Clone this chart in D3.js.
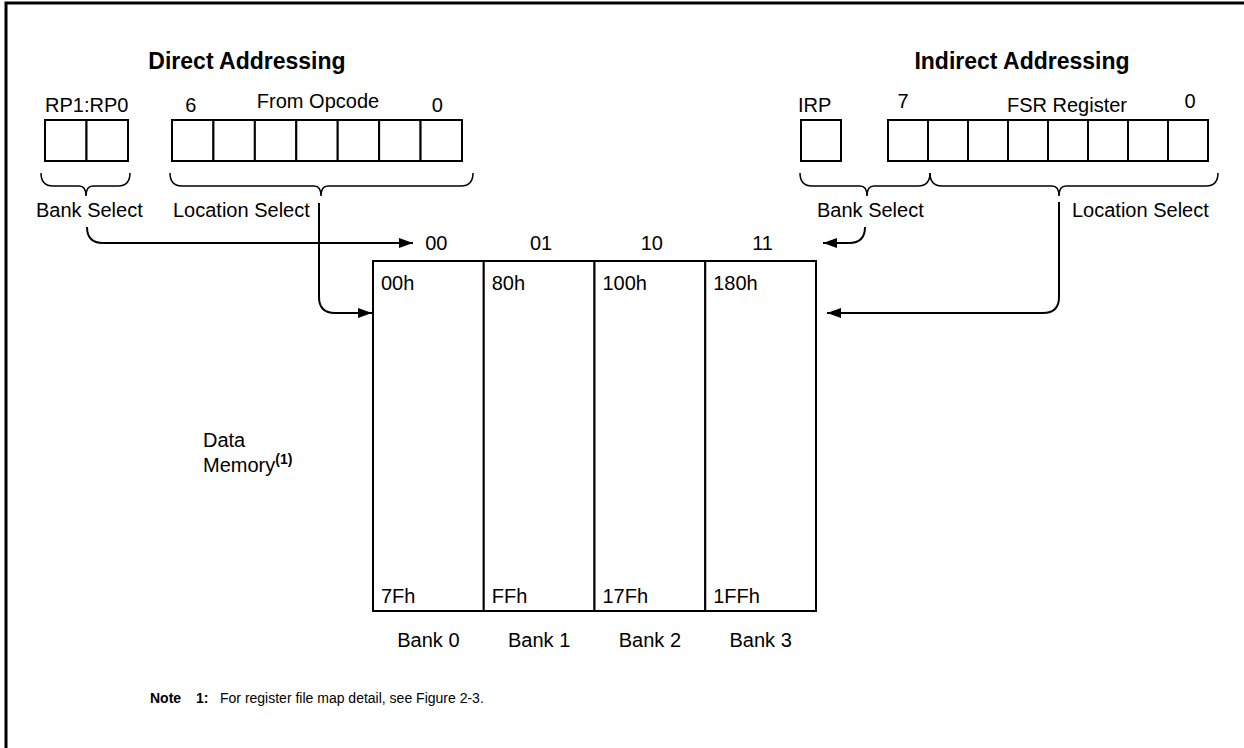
<!DOCTYPE html>
<html>
<head>
<meta charset="utf-8">
<script src="https://cdn.jsdelivr.net/npm/d3@7"></script>
<style>
body{margin:0;background:#fff}
svg text{font-family:"Liberation Sans",Arial,sans-serif;fill:#000}
</style>
</head>
<body>
<div id="fig"></div>
<script>
// banks of data memory
let bankNames = ["Bank 0","Bank 1","Bank 2","Bank 3"];
let bankCodes = ["00","01","10","11"];
let bankStart = ["00h","80h","100h","180h"];
let bankEnd = ["7Fh","FFh","17Fh","1FFh"];

// register bit fields
let rpBits = ["RP1","RP0"];
let opcodeBits = [6,5,4,3,2,1,0];
let irpBits = ["IRP"];
let fsrBits = [7,6,5,4,3,2,1,0];

let width = 1244, height = 748;
let svg = d3.select("#fig").append("svg").attr("width", width).attr("height", height);

// frame
svg.append("path").attr("d","M6,760 L6,3 L1260,3")
  .attr("fill","none").attr("stroke","#000").attr("stroke-width",3);

let defs = svg.append("defs");
defs.append("marker").attr("id","arr").attr("viewBox","0 0 14 10")
  .attr("refX",14).attr("refY",5).attr("markerWidth",14).attr("markerHeight",10)
  .attr("markerUnits","userSpaceOnUse").attr("orient","auto")
  .append("path").attr("d","M0,0 L14,5 L0,10 Z").attr("fill","#000");

function txt(x, y, s, opt){
  opt = opt || {};
  return svg.append("text").attr("x",x).attr("y",y).text(s)
    .attr("font-size", opt.size || 20)
    .attr("font-weight", opt.bold ? "bold" : "normal")
    .attr("text-anchor", opt.anchor || "start");
}

// titles
txt(247, 69, "Direct Addressing", {size:23, bold:true, anchor:"middle"});
txt(1022, 69, "Indirect Addressing", {size:23, bold:true, anchor:"middle"});

// register rows
let boxTop = 120, boxH = 41;
function drawRegister(bits, x0, x1){
  let sc = d3.scaleBand().domain(bits).range([x0, x1]);
  svg.append("g").selectAll("rect").data(bits).enter().append("rect")
    .attr("x", d => sc(d)).attr("y", boxTop)
    .attr("width", sc.bandwidth()).attr("height", boxH)
    .attr("fill","#fff").attr("stroke","#000").attr("stroke-width",2);
  return sc;
}
let rpScale = drawRegister(rpBits, 45, 128);
let opScale = drawRegister(opcodeBits, 172, 462);
let irpScale = drawRegister(irpBits, 801, 841);
let fsrScale = drawRegister(fsrBits, 888, 1208);

txt(45, 112, "RP1:RP0");
txt(opScale(6) + opScale.bandwidth()/2 - 2, 112, "6", {anchor:"middle"});
txt(318, 108, "From Opcode", {anchor:"middle"});
txt(opScale(0) + opScale.bandwidth()/2 - 4, 112, "0", {anchor:"middle"});

txt(798, 112, "IRP");
txt(fsrScale(7) + fsrScale.bandwidth()/2 - 5, 108, "7", {anchor:"middle"});
txt(1067, 112, "FSR Register", {anchor:"middle"});
txt(fsrScale(0) + fsrScale.bandwidth()/2 + 2, 108, "0", {anchor:"middle"});

// braces
function brace(x0, x1, xm){
  let yt = 173, yb = 186, yp = 196;
  let d = "M"+x0+","+yt+" Q"+x0+","+yb+" "+(x0+12)+","+yb+
    " L"+(xm-7)+","+yb+" Q"+xm+","+yb+" "+xm+","+yp+
    " Q"+xm+","+yb+" "+(xm+7)+","+yb+
    " L"+(x1-12)+","+yb+" Q"+x1+","+yb+" "+x1+","+yt;
  svg.append("path").attr("d", d).attr("fill","none").attr("stroke","#000").attr("stroke-width",1.5);
}
brace(41, 130, 86);
brace(170, 473, 321);
brace(800, 930, 867);
brace(930, 1218, 1059);

txt(36, 217, "Bank Select");
txt(173, 217, "Location Select");
txt(817, 217, "Bank Select");
txt(1072, 217, "Location Select");

// data memory
let memTop = 261, memBot = 611;
let bankX = d3.scaleBand().domain(bankNames).range([373, 816]);
let mem = svg.append("g");
mem.selectAll("rect").data(bankNames).enter().append("rect")
  .attr("x", d => bankX(d)).attr("y", memTop)
  .attr("width", bankX.bandwidth()).attr("height", memBot - memTop)
  .attr("fill","#fff").attr("stroke","#000").attr("stroke-width",2);

mem.selectAll("text.code").data(bankCodes).enter().append("text")
  .attr("class","code")
  .attr("x", (d,i) => bankX(bankNames[i]) + bankX.bandwidth()/2 + (i == 0 ? 8 : 2))
  .attr("y", 250).attr("text-anchor","middle").attr("font-size",20).text(d => d);
mem.selectAll("text.start").data(bankStart).enter().append("text")
  .attr("class","start")
  .attr("x", (d,i) => bankX(bankNames[i]) + 8).attr("y", 290)
  .attr("font-size",20).text(d => d);
mem.selectAll("text.end").data(bankEnd).enter().append("text")
  .attr("class","end")
  .attr("x", (d,i) => bankX(bankNames[i]) + 8).attr("y", 603)
  .attr("font-size",20).text(d => d);
mem.selectAll("text.name").data(bankNames).enter().append("text")
  .attr("class","name")
  .attr("x", d => bankX(d) + bankX.bandwidth()/2).attr("y", 647)
  .attr("text-anchor","middle").attr("font-size",20).text(d => d);

// arrows
function arrow(d){
  svg.append("path").attr("d", d).attr("fill","none").attr("stroke","#000")
    .attr("stroke-width",2).attr("marker-end","url(#arr)");
}
arrow("M87,227 Q87,243 103,243 L413,243");
arrow("M319,203 L319,297 Q319,313 335,313 L372,313");
arrow("M865,227 Q865,243 849,243 L823,243");
arrow("M1059,202 L1059,297 Q1059,313 1043,313 L827,313");

// data memory label
txt(203, 447, "Data");
let mlab = txt(203, 472, "Memory");
mlab.append("tspan").attr("font-size",14).attr("font-weight","bold").attr("dy",-8).text("(1)");

// note
txt(150, 703, "Note", {size:14, bold:true});
txt(196, 703, "1:", {size:14, bold:true});
txt(220, 703, "For register file map detail, see Figure 2-3.", {size:14});
</script>
</body>
</html>
